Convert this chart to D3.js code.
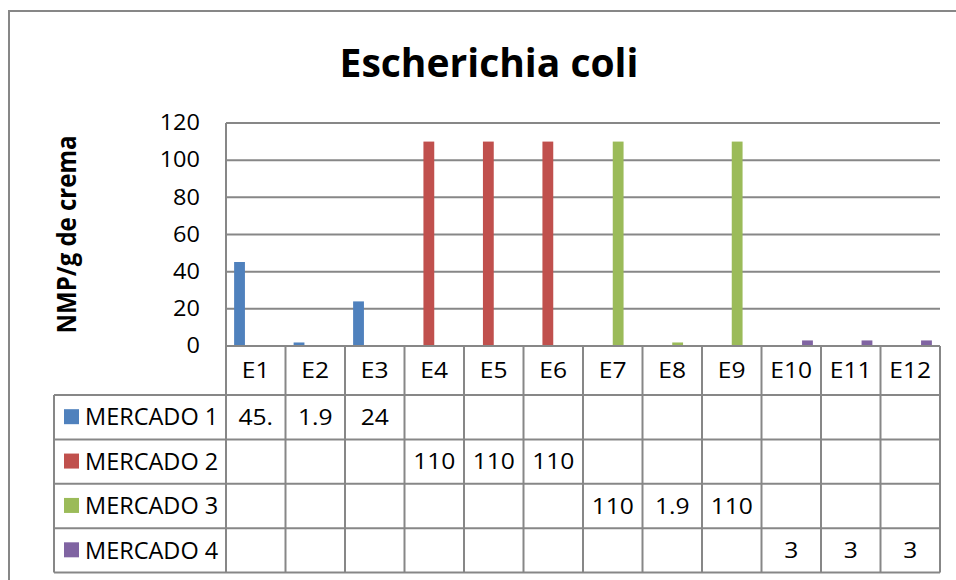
<!DOCTYPE html>
<html>
<head>
<meta charset="utf-8">
<script src="https://cdn.jsdelivr.net/npm/d3@7"></script>
<style>
  html, body { margin: 0; padding: 0; background: #fff; }
  svg { display: block; }
  text { font-family: "Open Sans", "Noto Sans", sans-serif; fill: #000; }
</style>
</head>
<body>
<svg id="chart" width="956" height="580"></svg>
<script>
// ---- data ----
const categories = ["E1","E2","E3","E4","E5","E6","E7","E8","E9","E10","E11","E12"];
const seriesNames = ["MERCADO 1","MERCADO 2","MERCADO 3","MERCADO 4"];
const mercado1 = [45.2, 1.9, 24, null, null, null, null, null, null, null, null, null];
const mercado2 = [null, null, null, 110, 110, 110, null, null, null, null, null, null];
const mercado3 = [null, null, null, null, null, null, 110, 1.9, 110, null, null, null];
const mercado4 = [null, null, null, null, null, null, null, null, null, 3, 3, 3];
const seriesColors = ["#4F81BD","#C0504D","#9BBB59","#8064A2"];
const yTicks = [0, 20, 40, 60, 80, 100, 120];
const titleText = "Escherichia coli";
const yLabel = "NMP/g de crema";

const seriesValues = [mercado1, mercado2, mercado3, mercado4];

// ---- layout ----
const svg = d3.select("#chart");
const gridColor = "#878787";
const SX = 1.12; // horizontal stretch of the original picture's text
const plot = { left: 226, right: 940, top: 123, bottom: 346 };
const table = { legendLeft: 54, headerBottom: 395, bottom: 572.5 };

const x = d3.scaleBand().domain(categories).range([plot.left, plot.right]).paddingInner(0).paddingOuter(0);
const xs = d3.scaleBand().domain(seriesNames).range([0, x.bandwidth()]).paddingInner(0).paddingOuter(0.75);
const y = d3.scaleLinear().domain([0, 120]).range([plot.bottom, plot.top]);
const rowY = d3.scaleBand().domain(seriesNames).range([table.headerBottom, table.bottom]);

// chart border (extends past the picture on right/bottom)
svg.append("rect")
  .attr("x", 9).attr("y", 11).attr("width", 1000).attr("height", 640)
  .attr("fill", "none").attr("stroke", gridColor).attr("stroke-width", 2);

// title
svg.append("text")
  .attr("x", 489).attr("y", 77)
  .attr("text-anchor", "middle")
  .attr("font-weight", "bold")
  .attr("font-size", 39)
  .text(titleText);

// gridlines
const gridG = svg.append("g");
gridG.selectAll("line.grid").data(yTicks.filter(d => d > 0)).join("line")
  .attr("x1", plot.left).attr("x2", plot.right)
  .attr("y1", d => y(d)).attr("y2", d => y(d))
  .attr("stroke", gridColor).attr("stroke-width", 2);

// y axis
const yAxis = d3.axisLeft(y).tickValues(yTicks).tickSize(0).tickPadding(26);
const yAxisG = svg.append("g").attr("transform", `translate(${plot.left},0)`).call(yAxis);
yAxisG.select(".domain").remove();
yAxisG.selectAll("text")
  .attr("font-size", 21)
  .attr("font-family", "'Open Sans', sans-serif")
  .attr("fill", "#000")
  .attr("x", -26 / SX)
  .attr("transform", `scale(${SX},1)`);

// y label
svg.append("text")
  .attr("transform", `translate(76,${(plot.top + plot.bottom) / 2}) rotate(-90) scale(1,${SX})`)
  .attr("text-anchor", "middle")
  .attr("font-weight", "bold")
  .attr("font-size", 24)
  .text(yLabel);

// bars
const barsG = svg.append("g");
seriesNames.forEach((s, si) => {
  const vals = seriesValues[si];
  barsG.selectAll(null)
    .data(categories.map((c, i) => ({ c, v: vals[i] })).filter(d => d.v != null))
    .join("rect")
    .attr("x", d => x(d.c) + xs(s))
    .attr("width", xs.bandwidth())
    .attr("y", d => y(d.v))
    .attr("height", d => y(0) - y(d.v))
    .attr("fill", seriesColors[si]);
});

// data table lines
const tG = svg.append("g").attr("stroke", gridColor).attr("stroke-width", 2);
tG.append("line").attr("x1", plot.left).attr("x2", plot.right).attr("y1", plot.bottom).attr("y2", plot.bottom);
tG.append("line").attr("x1", plot.left).attr("x2", plot.left).attr("y1", plot.top).attr("y2", table.bottom);
tG.selectAll("line.cb").data(categories).join("line")
  .attr("x1", d => x(d) + x.bandwidth()).attr("x2", d => x(d) + x.bandwidth())
  .attr("y1", plot.bottom).attr("y2", table.bottom);
tG.selectAll("line.rl").data(seriesNames).join("line")
  .attr("x1", table.legendLeft).attr("x2", plot.right)
  .attr("y1", d => rowY(d)).attr("y2", d => rowY(d));
tG.append("line").attr("x1", table.legendLeft).attr("x2", plot.right)
  .attr("y1", table.bottom).attr("y2", table.bottom);
tG.append("line").attr("x1", table.legendLeft).attr("x2", table.legendLeft)
  .attr("y1", table.headerBottom).attr("y2", table.bottom);

// category labels
svg.append("g").selectAll("text").data(categories).join("text")
  .attr("transform", d => `translate(${x(d) + x.bandwidth() / 2},${(plot.bottom + table.headerBottom) / 2}) scale(${SX},1)`)
  .attr("dy", "0.35em")
  .attr("text-anchor", "middle")
  .attr("font-size", 22)
  .text(d => d);

// legend rows
const legG = svg.append("g");
seriesNames.forEach((s, si) => {
  const cy = rowY(s) + rowY.bandwidth() / 2;
  legG.append("rect").attr("x", 64).attr("y", cy - 8).attr("width", 15).attr("height", 15)
    .attr("fill", seriesColors[si]);
  legG.append("text").attr("x", 85).attr("y", cy).attr("dy", "0.35em")
    .attr("font-size", 23.5).text(s);
});

// table values (Excel truncates to cell width)
const fmt = v => String(v).slice(0, 3);
const valG = svg.append("g");
seriesNames.forEach((s, si) => {
  const vals = seriesValues[si];
  valG.selectAll(null)
    .data(categories.map((c, i) => ({ c, v: vals[i] })).filter(d => d.v != null))
    .join("text")
    .attr("transform", d => `translate(${x(d.c) + x.bandwidth() / 2},${rowY(s) + rowY.bandwidth() / 2}) scale(${SX},1)`)
    .attr("dy", "0.35em")
    .attr("text-anchor", "middle")
    .attr("font-size", 22)
    .text(d => fmt(d.v));
});
</script>
</body>
</html>
